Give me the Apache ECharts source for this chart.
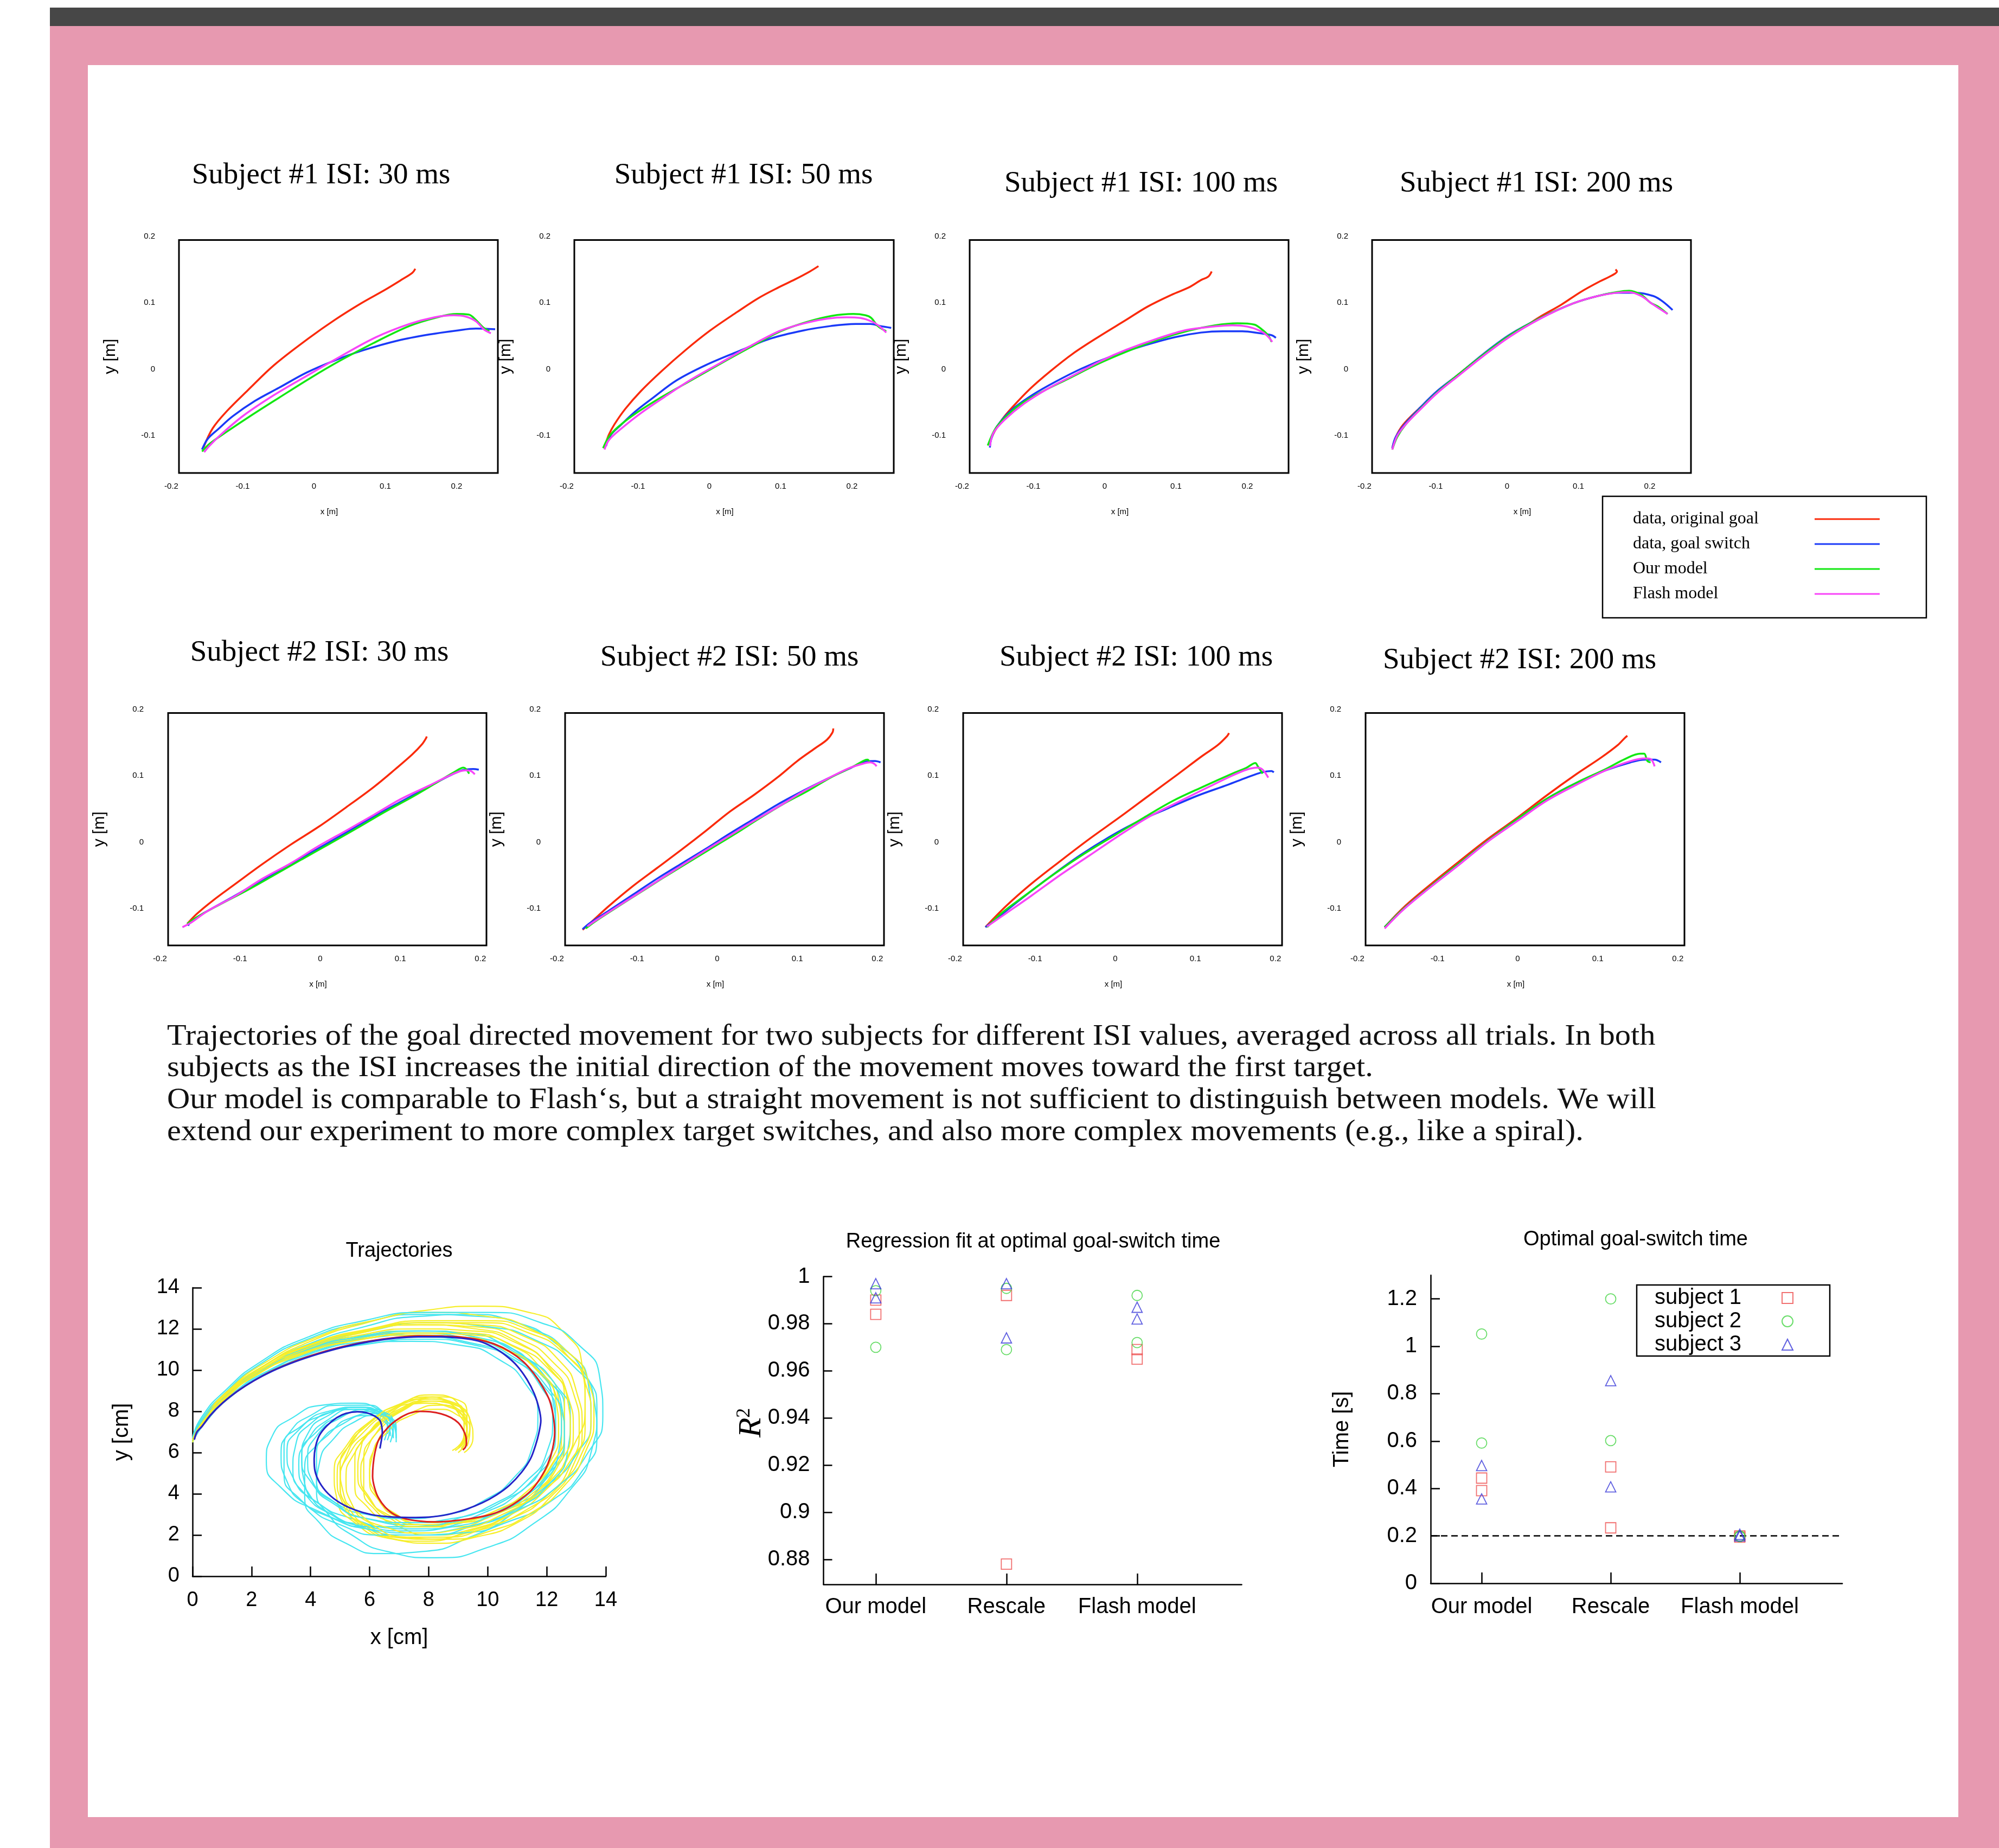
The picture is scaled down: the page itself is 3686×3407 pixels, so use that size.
<!DOCTYPE html>
<html><head><meta charset="utf-8">
<script src="https://cdn.jsdelivr.net/npm/echarts@6/dist/echarts.min.js"></script>
<style>
html,body{margin:0;padding:0;background:#fff;overflow:hidden;}
#bar{position:absolute;left:92px;top:14px;width:3594px;height:34px;background:#474747;}
#pink{position:absolute;left:92px;top:48px;width:3594px;height:3359px;background:#e799b0;}
#white{position:absolute;left:162px;top:120px;width:3449px;height:3230px;background:#fff;}
#chart{position:absolute;left:0;top:0;width:3686px;height:3407px;}
</style></head><body>
<div id="bar"></div><div id="pink"></div><div id="white"></div><div id="chart"></div>
<script>
// ---------- Trajectory panels data: [x, y] in metres ----------
const TRAJ_NAMES = ['data, original goal', 'data, goal switch', 'Our model', 'Flash model'];

const s1_30_orig = [[-0.155,-0.118],[-0.142,-0.089],[-0.122,-0.063],[-0.093,-0.032],[-0.056,0.006],[-0.008,0.046],[0.029,0.074],[0.066,0.099],[0.099,0.119],[0.122,0.134],[0.138,0.145],[0.142,0.151]];
const s1_30_switch = [[-0.157,-0.121],[-0.149,-0.105],[-0.134,-0.090],[-0.114,-0.071],[-0.083,-0.048],[-0.049,-0.028],[-0.010,-0.005],[0.029,0.013],[0.068,0.028],[0.118,0.043],[0.161,0.052],[0.200,0.058],[0.227,0.061],[0.254,0.060]];
const s1_30_ours = [[-0.157,-0.124],[-0.146,-0.112],[-0.122,-0.094],[-0.087,-0.069],[-0.049,-0.043],[-0.006,-0.014],[0.037,0.013],[0.083,0.039],[0.134,0.065],[0.173,0.078],[0.200,0.083],[0.217,0.082],[0.227,0.074],[0.237,0.063],[0.246,0.057]];
const s1_30_flash = [[-0.154,-0.125],[-0.147,-0.116],[-0.130,-0.098],[-0.099,-0.070],[-0.056,-0.039],[-0.010,-0.010],[0.037,0.019],[0.087,0.048],[0.134,0.068],[0.169,0.078],[0.196,0.081],[0.213,0.079],[0.227,0.072],[0.239,0.059],[0.248,0.054]];

const s1_50_orig = [[-0.147,-0.118],[-0.141,-0.099],[-0.133,-0.083],[-0.118,-0.060],[-0.096,-0.033],[-0.067,-0.003],[-0.033,0.029],[0.001,0.058],[0.039,0.086],[0.069,0.107],[0.097,0.123],[0.120,0.135],[0.141,0.147],[0.153,0.155]];
const s1_50_switch = [[-0.145,-0.116],[-0.138,-0.099],[-0.124,-0.084],[-0.104,-0.064],[-0.080,-0.044],[-0.046,-0.017],[-0.005,0.006],[0.039,0.026],[0.086,0.046],[0.131,0.058],[0.171,0.065],[0.205,0.068],[0.226,0.068],[0.239,0.065],[0.255,0.062]];
const s1_50_ours = [[-0.149,-0.119],[-0.141,-0.102],[-0.128,-0.087],[-0.101,-0.065],[-0.067,-0.042],[-0.029,-0.019],[0.012,0.006],[0.056,0.032],[0.100,0.057],[0.137,0.071],[0.171,0.080],[0.202,0.083],[0.219,0.081],[0.227,0.077],[0.236,0.065],[0.248,0.057]];
const s1_50_flash = [[-0.147,-0.121],[-0.141,-0.107],[-0.124,-0.090],[-0.097,-0.067],[-0.063,-0.042],[-0.026,-0.016],[0.015,0.009],[0.056,0.034],[0.100,0.058],[0.137,0.070],[0.165,0.076],[0.192,0.078],[0.212,0.077],[0.229,0.071],[0.239,0.064],[0.248,0.055]];

const s1_100_orig = [[-0.163,-0.113],[-0.154,-0.093],[-0.144,-0.076],[-0.130,-0.058],[-0.105,-0.030],[-0.076,-0.003],[-0.045,0.023],[-0.008,0.049],[0.030,0.074],[0.060,0.094],[0.094,0.112],[0.118,0.123],[0.135,0.134],[0.145,0.139],[0.150,0.147]];
const s1_100_switch = [[-0.161,-0.118],[-0.159,-0.105],[-0.151,-0.086],[-0.130,-0.061],[-0.100,-0.038],[-0.069,-0.019],[-0.032,0.001],[0.009,0.019],[0.057,0.036],[0.098,0.048],[0.135,0.055],[0.166,0.057],[0.193,0.057],[0.217,0.054],[0.234,0.051],[0.240,0.047]];
const s1_100_ours = [[-0.164,-0.115],[-0.154,-0.091],[-0.140,-0.073],[-0.117,-0.052],[-0.086,-0.033],[-0.052,-0.015],[-0.011,0.007],[0.030,0.026],[0.074,0.044],[0.118,0.058],[0.155,0.066],[0.186,0.069],[0.210,0.067],[0.220,0.060],[0.229,0.051],[0.234,0.041]];
const s1_100_flash = [[-0.161,-0.116],[-0.156,-0.096],[-0.140,-0.076],[-0.113,-0.052],[-0.079,-0.029],[-0.045,-0.010],[-0.004,0.013],[0.030,0.029],[0.074,0.046],[0.115,0.059],[0.152,0.064],[0.179,0.066],[0.200,0.064],[0.217,0.058],[0.227,0.051],[0.235,0.041]];

const s1_200_orig = [[-0.161,-0.119],[-0.156,-0.102],[-0.146,-0.084],[-0.125,-0.061],[-0.101,-0.038],[-0.074,-0.013],[-0.040,0.016],[-0.006,0.042],[0.021,0.061],[0.045,0.078],[0.076,0.097],[0.103,0.116],[0.130,0.132],[0.147,0.141],[0.154,0.147],[0.152,0.150]];
const s1_200_switch = [[-0.161,-0.119],[-0.156,-0.102],[-0.142,-0.081],[-0.122,-0.058],[-0.098,-0.033],[-0.067,-0.007],[-0.033,0.023],[0.004,0.052],[0.045,0.076],[0.093,0.099],[0.127,0.110],[0.154,0.115],[0.181,0.115],[0.205,0.110],[0.218,0.102],[0.232,0.089]];
const s1_200_ours = [[-0.161,-0.121],[-0.154,-0.102],[-0.142,-0.083],[-0.122,-0.060],[-0.098,-0.035],[-0.067,-0.007],[-0.033,0.022],[0.004,0.051],[0.045,0.076],[0.093,0.099],[0.127,0.110],[0.154,0.116],[0.171,0.118],[0.188,0.112],[0.201,0.100],[0.212,0.094],[0.225,0.083]];
const s1_200_flash = [[-0.161,-0.121],[-0.154,-0.100],[-0.142,-0.083],[-0.122,-0.061],[-0.098,-0.036],[-0.067,-0.009],[-0.033,0.020],[0.004,0.049],[0.045,0.075],[0.093,0.099],[0.127,0.110],[0.154,0.115],[0.171,0.116],[0.188,0.110],[0.205,0.097],[0.225,0.083]];

const s2_30_orig = [[-0.166,-0.123],[-0.154,-0.108],[-0.134,-0.088],[-0.106,-0.063],[-0.072,-0.033],[-0.037,-0.004],[-0.002,0.023],[0.032,0.052],[0.067,0.083],[0.094,0.110],[0.115,0.132],[0.127,0.147],[0.132,0.156],[0.133,0.159]];
const s2_30_switch = [[-0.165,-0.126],[-0.161,-0.119],[-0.144,-0.106],[-0.110,-0.083],[-0.075,-0.059],[-0.040,-0.035],[-0.006,-0.012],[0.029,0.012],[0.063,0.036],[0.098,0.059],[0.132,0.081],[0.160,0.099],[0.177,0.108],[0.191,0.110],[0.198,0.109]];
const s2_30_ours = [[-0.166,-0.123],[-0.154,-0.113],[-0.127,-0.095],[-0.092,-0.073],[-0.058,-0.050],[-0.023,-0.026],[0.011,-0.003],[0.046,0.021],[0.080,0.045],[0.115,0.068],[0.146,0.090],[0.167,0.105],[0.179,0.112],[0.182,0.110],[0.186,0.103]];
const s2_30_flash = [[-0.172,-0.128],[-0.161,-0.121],[-0.141,-0.104],[-0.106,-0.081],[-0.072,-0.055],[-0.037,-0.032],[-0.002,-0.006],[0.032,0.017],[0.067,0.041],[0.101,0.065],[0.136,0.085],[0.163,0.101],[0.181,0.108],[0.188,0.107],[0.193,0.102]];

const s2_50_orig = [[-0.168,-0.132],[-0.156,-0.119],[-0.135,-0.096],[-0.105,-0.066],[-0.075,-0.039],[-0.044,-0.011],[-0.014,0.017],[0.016,0.046],[0.046,0.071],[0.076,0.098],[0.100,0.122],[0.122,0.141],[0.137,0.154],[0.144,0.165],[0.145,0.171]];
const s2_50_switch = [[-0.168,-0.131],[-0.159,-0.122],[-0.135,-0.103],[-0.105,-0.079],[-0.075,-0.055],[-0.044,-0.032],[-0.014,-0.010],[0.016,0.013],[0.046,0.035],[0.076,0.057],[0.107,0.077],[0.137,0.095],[0.164,0.110],[0.185,0.121],[0.197,0.122],[0.204,0.120]];
const s2_50_ours = [[-0.164,-0.130],[-0.153,-0.120],[-0.129,-0.101],[-0.099,-0.078],[-0.069,-0.055],[-0.038,-0.032],[-0.008,-0.010],[0.022,0.012],[0.052,0.035],[0.082,0.057],[0.113,0.077],[0.143,0.098],[0.167,0.112],[0.184,0.123],[0.188,0.124],[0.190,0.120]];
const s2_50_flash = [[-0.162,-0.127],[-0.158,-0.123],[-0.135,-0.105],[-0.105,-0.082],[-0.075,-0.059],[-0.044,-0.035],[-0.014,-0.012],[0.016,0.010],[0.046,0.032],[0.076,0.053],[0.107,0.076],[0.137,0.095],[0.164,0.111],[0.182,0.118],[0.191,0.120],[0.196,0.118],[0.199,0.114]];

const s2_100_orig = [[-0.162,-0.128],[-0.136,-0.096],[-0.105,-0.063],[-0.068,-0.028],[-0.032,0.005],[0.005,0.037],[0.042,0.070],[0.078,0.102],[0.109,0.130],[0.128,0.146],[0.140,0.160],[0.142,0.164]];
const s2_100_switch = [[-0.162,-0.128],[-0.148,-0.115],[-0.117,-0.085],[-0.081,-0.052],[-0.044,-0.020],[-0.007,0.008],[0.030,0.032],[0.066,0.051],[0.103,0.070],[0.140,0.086],[0.164,0.097],[0.183,0.105],[0.195,0.107],[0.198,0.105]];
const s2_100_ours = [[-0.160,-0.128],[-0.142,-0.107],[-0.111,-0.079],[-0.075,-0.047],[-0.038,-0.017],[-0.001,0.010],[0.036,0.037],[0.072,0.062],[0.109,0.083],[0.146,0.103],[0.164,0.112],[0.175,0.119],[0.178,0.114],[0.184,0.103]];
const s2_100_flash = [[-0.160,-0.127],[-0.136,-0.107],[-0.105,-0.081],[-0.068,-0.049],[-0.032,-0.020],[0.005,0.010],[0.042,0.038],[0.078,0.060],[0.115,0.082],[0.146,0.100],[0.164,0.109],[0.177,0.112],[0.184,0.109],[0.191,0.097]];

const s2_200_orig = [[-0.166,-0.128],[-0.142,-0.098],[-0.111,-0.066],[-0.074,-0.030],[-0.037,0.005],[0.000,0.037],[0.036,0.070],[0.073,0.102],[0.104,0.127],[0.125,0.146],[0.134,0.157],[0.137,0.160]];
const s2_200_switch = [[-0.166,-0.128],[-0.142,-0.100],[-0.111,-0.069],[-0.074,-0.033],[-0.037,0.002],[0.000,0.035],[0.036,0.065],[0.073,0.089],[0.110,0.108],[0.141,0.120],[0.159,0.124],[0.171,0.124],[0.179,0.120]];
const s2_200_ours = [[-0.166,-0.128],[-0.142,-0.100],[-0.111,-0.069],[-0.074,-0.033],[-0.037,0.002],[0.000,0.035],[0.036,0.065],[0.073,0.089],[0.110,0.110],[0.134,0.125],[0.153,0.133],[0.158,0.133],[0.162,0.122],[0.166,0.120]];
const s2_200_flash = [[-0.166,-0.130],[-0.142,-0.101],[-0.111,-0.070],[-0.074,-0.035],[-0.037,0.001],[0.000,0.032],[0.036,0.062],[0.073,0.086],[0.110,0.108],[0.141,0.122],[0.159,0.126],[0.166,0.125],[0.171,0.114]];

// ---------- Spiral trajectories [x cm, y cm] ----------
const meanBlue = [[0.06,6.63],[0.15,7.0],[0.32,7.27],[0.6,7.8],[1.02,8.41],[1.5,8.95],[2.07,9.48],[2.7,9.95],[3.48,10.41],[4.3,10.8],[5.12,11.12],[6.0,11.38],[6.88,11.55],[7.65,11.62],[8.40,11.62],[9.1,11.55],[9.69,11.41],[10.2,11.1],[10.63,10.69],[11.0,10.2],[11.33,9.55],[11.58,8.85],[11.74,8.13],[11.8,7.55],[11.74,6.99],[11.62,6.35],[11.45,5.70],[11.15,5.05],[10.74,4.42],[10.3,3.95],[9.81,3.56],[9.25,3.24],[8.63,2.99],[8.0,2.87],[7.35,2.85],[6.7,2.88],[6.06,2.99],[5.5,3.22],[5.00,3.56],[4.6,4.0],[4.30,4.56],[4.15,5.1],[4.12,5.70],[4.17,6.3],[4.30,6.84],[4.55,7.3],[4.89,7.70],[5.2,7.9],[5.59,7.98],[5.9,7.93],[6.17,7.77],[6.35,7.55],[6.41,7.27],[6.43,6.98],[6.41,6.70],[6.38,6.45],[6.35,6.20]];
const meanRed = [[0.06,6.63],[0.15,7.0],[0.32,7.27],[0.6,7.8],[1.02,8.41],[1.5,8.96],[2.07,9.48],[2.7,9.97],[3.48,10.44],[4.3,10.83],[5.12,11.15],[6.0,11.41],[6.88,11.58],[7.65,11.66],[8.40,11.65],[9.1,11.6],[9.69,11.48],[10.25,11.25],[10.74,10.91],[11.2,10.42],[11.56,9.84],[11.86,9.2],[12.09,8.55],[12.22,7.78],[12.27,6.99],[12.2,6.2],[12.03,5.42],[11.78,4.75],[11.45,4.13],[11.0,3.62],[10.51,3.21],[9.95,2.94],[9.34,2.78],[8.75,2.68],[8.17,2.64],[7.68,2.68],[7.23,2.78],[6.83,3.0],[6.53,3.35],[6.3,3.8],[6.17,4.28],[6.1,4.85],[6.12,5.42],[6.18,6.0],[6.29,6.56],[6.5,7.02],[6.76,7.41],[7.05,7.7],[7.35,7.91],[7.7,8.0],[8.05,7.98],[8.42,7.88],[8.75,7.70],[9.0,7.45],[9.16,7.13],[9.26,6.78],[9.28,6.42],[9.24,6.25],[9.16,6.13]];
const cyan1 = [[0,6.6],[0.4,7.6],[1.2,8.9],[2.4,10.2],[4,11.3],[5.8,12.1],[7.6,12.6],[9.4,12.7],[11,12.3],[12.3,11.3],[13.3,9.8],[13.7,8],[13.5,6],[12.8,4.2],[11.6,2.6],[10,1.4],[8.2,0.9],[6.6,1.2],[5.4,2.0],[4.6,3.0],[4.2,4.2],[4.3,5.5],[4.8,6.7],[5.5,7.5],[6.2,7.8],[6.6,7.4],[6.7,6.8]];
const cyan2 = [[0,6.5],[0.3,7.4],[1,8.6],[2.2,9.9],[3.8,10.9],[5.6,11.6],[7.5,11.9],[9.2,11.8],[10.6,11.2],[11.6,10.1],[12.2,8.6],[12.3,7],[11.9,5.4],[11.1,4.1],[9.9,3.1],[8.4,2.5],[6.8,2.4],[5.4,2.8],[4.2,3.6],[3.4,4.8],[3.2,6],[3.6,7.1],[4.4,7.8],[5.4,8.1],[6.2,7.9],[6.6,7.3],[6.5,6.6]];
const cyan3 = [[0,6.6],[0.3,7.5],[1.1,8.8],[2.4,10.1],[4,11.1],[5.9,11.7],[7.8,11.9],[9.6,11.6],[11,10.8],[12,9.6],[12.6,8],[12.6,6.4],[12,4.9],[10.9,3.6],[9.4,2.7],[7.6,2.3],[5.8,2.5],[4.2,3.2],[3,4.3],[2.5,5.6],[2.7,6.8],[3.4,7.7],[4.4,8.3],[5.5,8.4],[6.3,8.1],[6.7,7.5],[6.6,6.9]];
const cyan4 = [[0,6.7],[0.3,7.6],[1.1,8.9],[2.3,10.3],[3.9,11.5],[5.8,12.3],[7.8,12.7],[9.8,12.6],[11.5,12],[12.7,10.9],[13.4,9.4],[13.5,7.6],[13,5.9],[12.1,4.5],[10.8,3.4],[9.2,2.7],[7.5,2.5],[5.9,2.8],[4.8,3.6],[4.2,4.7],[4.2,5.9],[4.7,7],[5.4,7.7],[6.1,7.9],[6.6,7.5],[6.8,6.9]];
const cyan5 = [[0,6.5],[0.4,7.4],[1.2,8.6],[2.5,9.8],[4.2,10.8],[6,11.3],[7.9,11.5],[9.6,11.2],[11,10.4],[12,9.2],[12.5,7.6],[12.4,6],[11.8,4.4],[10.8,3],[9.4,1.9],[7.8,1.2],[6.4,1.1],[5.2,1.6],[4.3,2.6],[3.8,3.9],[3.8,5.2],[4.3,6.5],[5.1,7.4],[5.9,7.8],[6.5,7.5],[6.7,6.9]];
const cyan6 = [[0,6.6],[0.3,7.3],[1,8.4],[2.2,9.6],[3.8,10.6],[5.6,11.2],[7.4,11.4],[9.1,11.2],[10.4,10.5],[11.3,9.3],[11.7,7.8],[11.5,6.2],[10.9,4.8],[9.9,3.7],[8.6,3],[7.2,2.8],[5.9,3],[4.8,3.6],[4,4.6],[3.7,5.8],[3.9,6.9],[4.6,7.8],[5.5,8.2],[6.3,8],[6.8,7.4],[6.9,6.7]];
const cyan7 = [[0,6.6],[0.4,7.5],[1.2,8.8],[2.5,10.1],[4.1,11.2],[6,11.9],[8,12.3],[10,12.1],[11.7,11.4],[12.9,10.2],[13.6,8.6],[13.7,6.8],[13.2,5.1],[12.2,3.7],[10.8,2.7],[9.1,2.1],[7.3,2],[5.7,2.4],[4.5,3.3],[3.8,4.5],[3.7,5.8],[4.2,7],[5.1,7.8],[6,8.1],[6.6,7.8],[6.9,7.1]];
const cyan8 = [[0,6.5],[0.3,7.4],[1.1,8.7],[2.3,10],[3.9,11],[5.7,11.6],[7.6,11.8],[9.4,11.5],[10.8,10.7],[11.8,9.4],[12.3,7.8],[12.2,6.2],[11.6,4.8],[10.6,3.7],[9.2,2.9],[7.6,2.4],[6,2.4],[4.6,2.9],[3.6,3.8],[3.1,5],[3.1,6.3],[3.7,7.3],[4.6,8],[5.6,8.2],[6.4,7.9],[6.8,7.3],[6.7,6.5]];
const cyan9 = [[0,6.6],[0.3,7.5],[1.1,8.7],[2.3,9.9],[3.9,10.9],[5.7,11.5],[7.6,11.7],[9.4,11.5],[10.9,10.8],[11.9,9.7],[12.5,8.3],[12.6,6.8],[12.2,5.3],[11.4,4],[10.2,3],[8.8,2.4],[7.3,2.2],[5.9,2.4],[4.7,3],[3.8,4],[3.4,5.2],[3.5,6.4],[4,7.4],[4.8,8],[5.7,8.2],[6.4,7.9],[6.7,7.3],[6.6,6.6]];
const cyan10 = [[0,6.5],[0.4,7.5],[1.3,8.8],[2.6,10],[4.3,11],[6.2,11.6],[8.1,11.8],[9.9,11.5],[11.3,10.6],[12.3,9.3],[12.8,7.7],[12.7,6],[12.1,4.5],[11,3.3],[9.6,2.5],[8,2],[6.4,2],[5,2.5],[3.9,3.4],[3.2,4.6],[3,5.9],[3.3,7],[4,7.8],[5,8.3],[5.9,8.3],[6.5,7.9],[6.8,7.2]];
const cyan11 = [[0,6.7],[0.3,7.7],[1.1,9],[2.3,10.4],[3.9,11.6],[5.8,12.4],[7.9,12.8],[10,12.8],[11.8,12.3],[13.1,11.2],[13.8,9.6],[13.9,7.8],[13.4,6],[12.4,4.4],[11,3.2],[9.3,2.4],[7.5,2.1],[5.9,2.3],[4.7,3],[3.9,4.1],[3.6,5.4],[3.9,6.6],[4.6,7.6],[5.5,8.1],[6.3,8],[6.8,7.4],[6.8,6.7]];
const cyan12 = [[0,6.6],[0.4,7.4],[1.2,8.6],[2.4,9.8],[4,10.8],[5.9,11.4],[7.8,11.6],[9.5,11.3],[10.9,10.5],[11.8,9.2],[12.2,7.6],[12,6],[11.3,4.6],[10.2,3.5],[8.8,2.8],[7.3,2.6],[5.9,2.8],[4.8,3.5],[4.1,4.5],[3.9,5.7],[4.2,6.8],[4.9,7.6],[5.8,8],[6.5,7.8],[6.9,7.2],[6.9,6.5]];
const yellow1 = [[0,6.6],[0.4,7.6],[1.2,8.9],[2.4,10.2],[4,11.4],[5.9,12.3],[7.9,12.9],[9.8,13.1],[11.4,12.8],[12.6,11.8],[13.2,10.2],[13.3,8.3],[12.9,6.3],[12.1,4.6],[10.9,3.2],[9.5,2.3],[8.1,2],[7,2.4],[6.2,3.2],[5.8,4.3],[5.8,5.6],[6.2,6.9],[6.9,7.9],[7.8,8.4],[8.6,8.3],[9.1,7.7],[9.3,6.9],[9.1,6.2]];
const yellow2 = [[0,6.6],[0.3,7.4],[1,8.6],[2.2,9.9],[3.8,10.9],[5.7,11.6],[7.6,11.9],[9.4,11.8],[10.8,11.2],[11.8,10.1],[12.4,8.6],[12.5,6.9],[12.1,5.2],[11.3,3.9],[10.1,2.9],[8.8,2.4],[7.6,2.4],[6.6,2.9],[6,3.8],[5.7,4.9],[5.9,6.1],[6.4,7.2],[7.2,8.1],[8.1,8.6],[8.8,8.4],[9.2,7.7],[9.2,6.8],[8.9,6.1]];
const yellow3 = [[0,6.6],[0.4,7.5],[1.1,8.8],[2.3,10.1],[3.9,11.2],[5.8,11.9],[7.7,12.2],[9.6,12.1],[11.1,11.5],[12.2,10.4],[12.9,8.9],[13.1,7.2],[12.8,5.4],[12,3.9],[10.8,2.8],[9.3,2.1],[7.8,1.7],[6.5,1.9],[5.5,2.6],[4.9,3.7],[4.8,5],[5.2,6.3],[6,7.5],[7,8.3],[8.1,8.6],[8.9,8.2],[9.3,7.4],[9.2,6.5]];
const yellow4 = [[0,6.5],[0.3,7.3],[1,8.5],[2.1,9.8],[3.7,10.8],[5.5,11.5],[7.4,11.8],[9.2,11.6],[10.7,10.9],[11.8,9.8],[12.4,8.4],[12.6,6.8],[12.3,5.3],[11.5,4],[10.4,3.1],[9.1,2.6],[7.9,2.5],[6.9,2.9],[6.3,3.7],[6,4.7],[6.1,5.9],[6.6,7],[7.4,7.8],[8.3,8.1],[9,7.8],[9.4,7.1],[9.3,6.3]];
const yellow5 = [[0,6.7],[0.4,7.7],[1.2,9],[2.5,10.4],[4.2,11.6],[6.1,12.4],[8.1,12.8],[10,12.6],[11.6,11.9],[12.7,10.7],[13.3,9.1],[13.3,7.3],[12.8,5.6],[11.9,4.2],[10.6,3.2],[9.1,2.6],[7.7,2.5],[6.6,3],[5.9,3.9],[5.6,5],[5.7,6.2],[6.2,7.3],[7,8.1],[7.9,8.5],[8.7,8.4],[9.2,7.8],[9.3,7],[9,6.3]];
const yellow6 = [[0,6.6],[0.3,7.4],[1.1,8.7],[2.3,10],[3.9,11],[5.7,11.7],[7.6,12],[9.5,11.9],[11,11.3],[12.1,10.2],[12.7,8.8],[12.9,7.1],[12.6,5.5],[11.9,4.1],[10.8,3],[9.4,2.2],[8,1.8],[6.8,1.9],[5.8,2.5],[5.1,3.5],[4.9,4.8],[5.2,6.1],[5.9,7.3],[6.9,8.2],[7.9,8.7],[8.7,8.5],[9.2,7.8],[9.2,6.9],[8.8,6.1]];
const yellow7 = [[0,6.6],[0.3,7.5],[1.1,8.8],[2.3,10.1],[3.9,11.2],[5.8,11.9],[7.8,12.3],[9.7,12.2],[11.3,11.6],[12.4,10.5],[13,9],[13.2,7.2],[12.9,5.4],[12.1,3.8],[11,2.6],[9.6,1.9],[8.1,1.6],[6.8,1.8],[5.8,2.4],[5.2,3.4],[5,4.6],[5.3,5.9],[6,7],[6.9,7.9],[7.9,8.4],[8.7,8.2],[9.2,7.6],[9.3,6.8],[9,6]];
const yellow8 = [[0,6.5],[0.3,7.4],[1,8.6],[2.2,9.9],[3.8,11],[5.7,11.8],[7.7,12.2],[9.6,12],[11.1,11.3],[12.1,10.1],[12.6,8.6],[12.6,7],[12.2,5.5],[11.4,4.2],[10.3,3.2],[9,2.7],[7.8,2.6],[6.8,3.1],[6.2,4],[6,5.1],[6.2,6.3],[6.7,7.3],[7.5,8],[8.4,8.3],[9,8],[9.3,7.2],[9.1,6.3]];
const yellow9 = [[0,6.6],[0.4,7.5],[1.2,8.8],[2.4,10.1],[4,11.2],[5.9,11.9],[7.9,12.3],[9.8,12.3],[11.4,11.8],[12.6,10.8],[13.3,9.4],[13.5,7.7],[13.2,6],[12.5,4.5],[11.4,3.3],[10,2.4],[8.5,1.9],[7.1,1.9],[6,2.4],[5.3,3.3],[5,4.5],[5.2,5.8],[5.8,7],[6.7,8],[7.6,8.6],[8.5,8.7],[9.1,8.2],[9.4,7.3],[9.2,6.4]];
const yellow10 = [[0,6.5],[0.3,7.3],[1,8.5],[2.1,9.7],[3.6,10.7],[5.4,11.4],[7.3,11.7],[9.1,11.6],[10.6,11],[11.7,10],[12.3,8.6],[12.4,7],[12.1,5.5],[11.4,4.2],[10.3,3.2],[9,2.6],[7.7,2.4],[6.6,2.7],[5.9,3.4],[5.5,4.4],[5.5,5.6],[5.9,6.8],[6.6,7.8],[7.5,8.4],[8.4,8.5],[9,8],[9.3,7.2],[9.1,6.4]];
const yellow11 = [[0,6.6],[0.4,7.6],[1.2,8.9],[2.4,10.2],[4.1,11.3],[6,12],[8,12.4],[9.9,12.4],[11.5,11.9],[12.7,10.9],[13.4,9.5],[13.6,7.8],[13.3,6],[12.6,4.4],[11.5,3.1],[10.1,2.2],[8.6,1.8],[7.2,1.9],[6.1,2.5],[5.4,3.5],[5.2,4.7],[5.5,6],[6.2,7.2],[7.1,8.1],[8.1,8.5],[8.9,8.3],[9.4,7.6],[9.5,6.7],[9.2,6]];
const yellow12 = [[0,6.6],[0.3,7.4],[1.1,8.6],[2.3,9.9],[3.9,10.9],[5.8,11.5],[7.7,11.8],[9.5,11.7],[11,11.1],[12.1,10],[12.7,8.6],[12.8,7],[12.4,5.4],[11.6,4],[10.5,3],[9.1,2.3],[7.7,2.1],[6.5,2.4],[5.6,3.1],[5.1,4.1],[5,5.3],[5.4,6.5],[6.1,7.6],[7.1,8.4],[8.1,8.8],[8.9,8.6],[9.3,7.9],[9.3,7],[9,6.2]];

// ---------- Scatter charts ----------
const MODEL_LABELS = ['Our model', 'Rescale', 'Flash model'];
const SUBJECT_NAMES = ['subject 1', 'subject 2', 'subject 3'];
// R^2 per model (two values each)
const R2_SUBJ1 = [[0.990, 0.984], [0.992, 0.878], [0.969, 0.965]];
const R2_SUBJ2 = [[0.994, 0.970], [0.995, 0.969], [0.992, 0.972]];
const R2_SUBJ3 = [[0.997, 0.991], [0.997, 0.974], [0.987, 0.982]];
const R2_TICKS = [0.88, 0.90, 0.92, 0.94, 0.96, 0.98, 1.0];
// Optimal goal-switch time [s]
const TIME_SUBJ1 = [[0.444, 0.391], [0.491, 0.234], [0.195, 0.200]];
const TIME_SUBJ2 = [[1.052, 0.592], [1.200, 0.602], [0.197, 0.200]];
const TIME_SUBJ3 = [[0.497, 0.356], [0.855, 0.407], [0.207, 0.200]];
const TIME_TICKS = [0, 0.2, 0.4, 0.6, 0.8, 1.0, 1.2];
const TIME_REF = 0.2;

const CAPTION_LINES = [
  'Trajectories of the goal directed movement for two subjects for different ISI values, averaged across all trials. In both',
  'subjects as the ISI increases the initial direction of the movement moves toward the first target.',
  'Our model is comparable to Flash\u2018s, but a straight movement is not sufficient to distinguish between models. We will',
  'extend our experiment to more complex target switches, and also more complex movements (e.g., like a spiral).'
];

// ---------- Layout / styling ----------
const SANS = "'Liberation Sans', Arial, Helvetica, sans-serif";
const SERIF = "'Liberation Serif', 'Times New Roman', serif";
const TRAJ_COLORS = ['#fa2a0a', '#1a3af8', '#12e812', '#f844f8'];
const SUBJ_COLORS = ['#ee4c4c', '#44d444', '#3838d8'];
const SUBJ_SYMBOLS = ['rect', 'circle', 'triangle'];

const PANELS = [
  {title: 'Subject #1 ISI: 30 ms', tx: 592, ty: 324, L: 330, T: 442.5, R: 918, B: 872, row: 0, data: [s1_30_orig, s1_30_switch, s1_30_ours, s1_30_flash]},
  {title: 'Subject #1 ISI: 50 ms', tx: 1371, ty: 324, L: 1059, T: 442.5, R: 1648, B: 872, row: 0, data: [s1_50_orig, s1_50_switch, s1_50_ours, s1_50_flash]},
  {title: 'Subject #1 ISI: 100 ms', tx: 2104, ty: 339, L: 1788, T: 442.5, R: 2376, B: 872, row: 0, data: [s1_100_orig, s1_100_switch, s1_100_ours, s1_100_flash]},
  {title: 'Subject #1 ISI: 200 ms', tx: 2833, ty: 339, L: 2530, T: 442.5, R: 3118, B: 872, row: 0, data: [s1_200_orig, s1_200_switch, s1_200_ours, s1_200_flash]},
  {title: 'Subject #2 ISI: 30 ms', tx: 589, ty: 1204, L: 310, T: 1314.5, R: 897, B: 1743, row: 1, data: [s2_30_orig, s2_30_switch, s2_30_ours, s2_30_flash]},
  {title: 'Subject #2 ISI: 50 ms', tx: 1345, ty: 1213, L: 1042, T: 1314.5, R: 1630, B: 1743, row: 1, data: [s2_50_orig, s2_50_switch, s2_50_ours, s2_50_flash]},
  {title: 'Subject #2 ISI: 100 ms', tx: 2095, ty: 1213, L: 1776, T: 1314.5, R: 2364, B: 1743, row: 1, data: [s2_100_orig, s2_100_switch, s2_100_ours, s2_100_flash]},
  {title: 'Subject #2 ISI: 200 ms', tx: 2802, ty: 1218, L: 2518, T: 1314.5, R: 3106, B: 1743, row: 1, data: [s2_200_orig, s2_200_switch, s2_200_ours, s2_200_flash]}
];

const grids = [], xAxes = [], yAxes = [], series = [], texts = [];
function txt(x, y, text, size, family, extra) {
  return Object.assign({type: 'text', x: x, y: y, z: 10, style: {text: text, fontSize: size, fontFamily: family, fill: '#000',
    align: 'center', verticalAlign: 'middle', textAlign: 'center', textVerticalAlign: 'middle'}}, extra || {});
}

PANELS.forEach(function (p, i) {
  const xs = p.row === 0 ? 1315 : 1477;   // px per metre (x)
  const dx = p.row === 0 ? 14 : 15;       // offset of the -0.2 label from frame
  const ys = 1225;
  const gTop = p.T - 7;
  const gH = 0.4 * ys;
  const gi = grids.length;
  grids.push({left: p.L - dx, top: gTop, width: 0.5 * xs, height: gH, show: false});
  grids.push({left: p.L, top: p.T, width: p.R - p.L, height: p.B - p.T, show: true, borderColor: '#000', borderWidth: 3, backgroundColor: 'rgba(0,0,0,0)'});
  xAxes.push({type: 'value', gridIndex: gi, min: -0.2, max: 0.3, interval: 0.1, offset: -(gTop + gH - p.B),
    axisLine: {show: false}, axisTick: {show: false}, splitLine: {show: false},
    axisLabel: {showMaxLabel: false, fontSize: 15, margin: 17, color: '#000', fontFamily: SANS}});
  yAxes.push({type: 'value', gridIndex: gi, min: -0.2, max: 0.2, interval: 0.1,
    axisLine: {show: false}, axisTick: {show: false}, splitLine: {show: false},
    axisLabel: {showMinLabel: false, fontSize: 15, margin: 30, color: '#000', fontFamily: SANS}});
  xAxes.push({type: 'value', gridIndex: gi + 1, min: 0, max: 1, show: false});
  yAxes.push({type: 'value', gridIndex: gi + 1, min: 0, max: 1, show: false});
  p.data.forEach(function (d, k) {
    series.push({type: 'line', name: TRAJ_NAMES[k], xAxisIndex: gi, yAxisIndex: gi, data: d, smooth: 0.35,
      symbol: 'none', showSymbol: false, lineStyle: {color: TRAJ_COLORS[k], width: 3.5}, itemStyle: {color: TRAJ_COLORS[k]},
      emphasis: {disabled: true}, z: 3});
  });
  texts.push(txt(p.tx, p.ty, p.title, 55, SERIF));
  texts.push(txt((p.L + p.R) / 2 - 17, p.B + 72, 'x [m]', 15, SANS));
  texts.push(txt(p.L - 126, (p.T + p.B) / 2, 'y [m]', 30, SANS, {rotation: Math.PI / 2}));
});

// ---------- Chart A: Trajectories (grid 16) ----------
const axBlack = {lineStyle: {color: '#000', width: 2.5}};
grids.push({left: 355, top: 2374, width: 762, height: 532});
xAxes.push({type: 'value', gridIndex: 16, min: 0, max: 14, interval: 2, axisLine: axBlack,
  axisTick: {inside: true, length: 18, lineStyle: {color: '#000', width: 2.5}}, splitLine: {show: false},
  axisLabel: {fontSize: 38, margin: 26, color: '#000', fontFamily: SANS},
  name: 'x [cm]', nameLocation: 'middle', nameGap: 94, nameTextStyle: {fontSize: 40, color: '#000', fontFamily: SANS}});
yAxes.push({type: 'value', gridIndex: 16, min: 0, max: 14, interval: 2, axisLine: axBlack,
  axisTick: {inside: true, length: 17, lineStyle: {color: '#000', width: 2.5}}, splitLine: {show: false},
  axisLabel: {fontSize: 38, margin: 24, color: '#000', fontFamily: SANS},
  name: 'y [cm]', nameLocation: 'middle', nameGap: 110, nameTextStyle: {fontSize: 40, color: '#000', fontFamily: SANS}});
const CYANS = [cyan1, cyan2, cyan3, cyan4, cyan5, cyan6, cyan7, cyan8, cyan9, cyan10, cyan11, cyan12];
const YELLOWS = [yellow1, yellow2, yellow3, yellow4, yellow5, yellow6, yellow7, yellow8, yellow9, yellow10, yellow11, yellow12];
for (let k = 0; k < CYANS.length; k++) {
  [[CYANS[k], '#46e6f0'], [YELLOWS[k], '#f6ee2a']].forEach(function (pair) {
    series.push({type: 'line', xAxisIndex: 16, yAxisIndex: 16, data: pair[0], smooth: 0.6, symbol: 'none',
      lineStyle: {color: pair[1], width: 2.2}, emphasis: {disabled: true}, silent: true, z: 2});
  });
}
series.push({type: 'line', xAxisIndex: 16, yAxisIndex: 16, data: meanRed, smooth: 0.3, symbol: 'none',
  lineStyle: {color: '#dc2020', width: 3}, emphasis: {disabled: true}, z: 4});
series.push({type: 'line', xAxisIndex: 16, yAxisIndex: 16, data: meanBlue, smooth: 0.3, symbol: 'none',
  lineStyle: {color: '#2424c8', width: 3}, emphasis: {disabled: true}, z: 4});
texts.push(txt(736, 2307, 'Trajectories', 38, SANS));

// ---------- Chart B: Regression fit (grid 17) ----------
grids.push({left: 1518.5, top: 2353.5, width: 771, height: 567.5});
xAxes.push({type: 'value', gridIndex: 17, min: 0.6, max: 3.8, axisLine: axBlack, splitLine: {show: false},
  axisTick: {inside: true, length: 20, customValues: [1, 2, 3], lineStyle: {color: '#000', width: 2.5}},
  axisLabel: {customValues: [1, 2, 3], formatter: function (v) { return MODEL_LABELS[Math.round(v) - 1]; },
    fontSize: 40, margin: 22, color: '#000', fontFamily: SANS}});
yAxes.push({type: 'value', gridIndex: 17, min: 0.8694, max: 1.0, axisLine: axBlack, splitLine: {show: false},
  axisTick: {inside: true, length: 16, customValues: R2_TICKS, lineStyle: {color: '#000', width: 2.5}},
  axisLabel: {customValues: R2_TICKS, formatter: function (v) { return String(+v.toFixed(2)); },
    fontSize: 40, margin: 25, color: '#000', fontFamily: SANS}});
[R2_SUBJ1, R2_SUBJ2, R2_SUBJ3].forEach(function (arr, s) {
  const d = [];
  arr.forEach(function (vals, m) { vals.forEach(function (v) { d.push([m + 1, v]); }); });
  series.push({type: 'scatter', name: SUBJECT_NAMES[s], xAxisIndex: 17, yAxisIndex: 17, data: d,
    symbol: SUBJ_SYMBOLS[s], symbolSize: 19, itemStyle: {color: 'rgba(0,0,0,0)', borderColor: SUBJ_COLORS[s], borderWidth: 1.8},
    emphasis: {disabled: true}, z: 5});
});
texts.push(txt(1905, 2290, 'Regression fit at optimal goal-switch time', 38, SANS));
texts.push({type: 'text', x: 1386, y: 2623, rotation: Math.PI / 2, z: 10,
  style: {text: '{r|R}{s|2}', align: 'center', verticalAlign: 'middle', textAlign: 'center', textVerticalAlign: 'middle', fill: '#000',
    rich: {r: {fontFamily: SERIF, fontStyle: 'italic', fontSize: 60, fill: '#000'},
           s: {fontFamily: SERIF, fontSize: 36, fill: '#000', padding: [0, 0, 26, 0]}}}});

// ---------- Chart C: Optimal goal-switch time (grid 18) ----------
grids.push({left: 2638, top: 2351, width: 759, height: 568});
xAxes.push({type: 'value', gridIndex: 18, min: 0.605, max: 3.794, axisLine: axBlack, splitLine: {show: false},
  axisTick: {inside: true, length: 20, customValues: [1, 2, 3], lineStyle: {color: '#000', width: 2.5}},
  axisLabel: {customValues: [1, 2, 3], formatter: function (v) { return MODEL_LABELS[Math.round(v) - 1]; },
    fontSize: 40, margin: 24, color: '#000', fontFamily: SANS}});
yAxes.push({type: 'value', gridIndex: 18, min: 0, max: 1.3, axisLine: axBlack, splitLine: {show: false},
  axisTick: {inside: true, length: 17, customValues: TIME_TICKS, lineStyle: {color: '#000', width: 2.5}},
  axisLabel: {customValues: TIME_TICKS, formatter: function (v) { return String(+v.toFixed(1)); },
    fontSize: 40, margin: 25, color: '#000', fontFamily: SANS},
  name: 'Time [s]', nameLocation: 'middle', nameGap: 143, nameTextStyle: {fontSize: 40, color: '#000', fontFamily: SANS}});
[TIME_SUBJ1, TIME_SUBJ2, TIME_SUBJ3].forEach(function (arr, s) {
  const d = [];
  arr.forEach(function (vals, m) { vals.forEach(function (v) { d.push([m + 1, v]); }); });
  const ser = {type: 'scatter', name: SUBJECT_NAMES[s], xAxisIndex: 18, yAxisIndex: 18, data: d,
    symbol: SUBJ_SYMBOLS[s], symbolSize: 19, itemStyle: {color: 'rgba(0,0,0,0)', borderColor: SUBJ_COLORS[s], borderWidth: 1.8},
    emphasis: {disabled: true}, z: 5};
  if (s === 0) {
    ser.markLine = {silent: true, symbol: ['none', 'none'], label: {show: false}, animation: false,
      lineStyle: {color: '#000', type: [12, 7], width: 2.5}, data: [{yAxis: TIME_REF}]};
  }
  series.push(ser);
});
texts.push(txt(3016, 2286, 'Optimal goal-switch time', 38, SANS));

// caption paragraph (Palatino-like width: stretch the serif slightly)
texts.push({type: 'text', x: 308, y: 1882, z: 10, scaleX: 1.083, style: {text: CAPTION_LINES.join('\n'), fontSize: 54, fontFamily: SERIF,
  lineHeight: 58.8, fill: '#111', align: 'left', verticalAlign: 'top', textAlign: 'left', textVerticalAlign: 'top'}});

const option = {
  animation: false,
  grid: grids, xAxis: xAxes, yAxis: yAxes, series: series,
  legend: [
    {data: TRAJ_NAMES, orient: 'vertical', align: 'right', left: 2955, top: 915, padding: [26, 86, 28, 56],
     itemGap: 14, itemWidth: 120, itemHeight: 3, icon: 'rect', borderColor: '#000', borderWidth: 2.5, selectedMode: false,
     formatter: function (n) { return '{t|' + n + '}'; },
     textStyle: {color: '#000', rich: {t: {fontFamily: SERIF, fontSize: 32, lineHeight: 32, width: 330, align: 'left', color: '#000'}}}},
    {data: SUBJECT_NAMES, orient: 'vertical', align: 'right', left: 3018, top: 2369, padding: [4, 67, 1, 33],
     itemGap: 3, itemWidth: 20, itemHeight: 20, borderColor: '#000', borderWidth: 2.5, selectedMode: false,
     formatter: function (n) { return '{t|' + n + '}'; },
     textStyle: {color: '#000', rich: {t: {fontFamily: SANS, fontSize: 40, lineHeight: 40, width: 230, align: 'left', color: '#000'}}}}
  ],
  graphic: {elements: texts}
};
const chart = echarts.init(document.getElementById('chart'), null, {renderer: 'canvas'});
chart.setOption(option);
</script></body></html>
